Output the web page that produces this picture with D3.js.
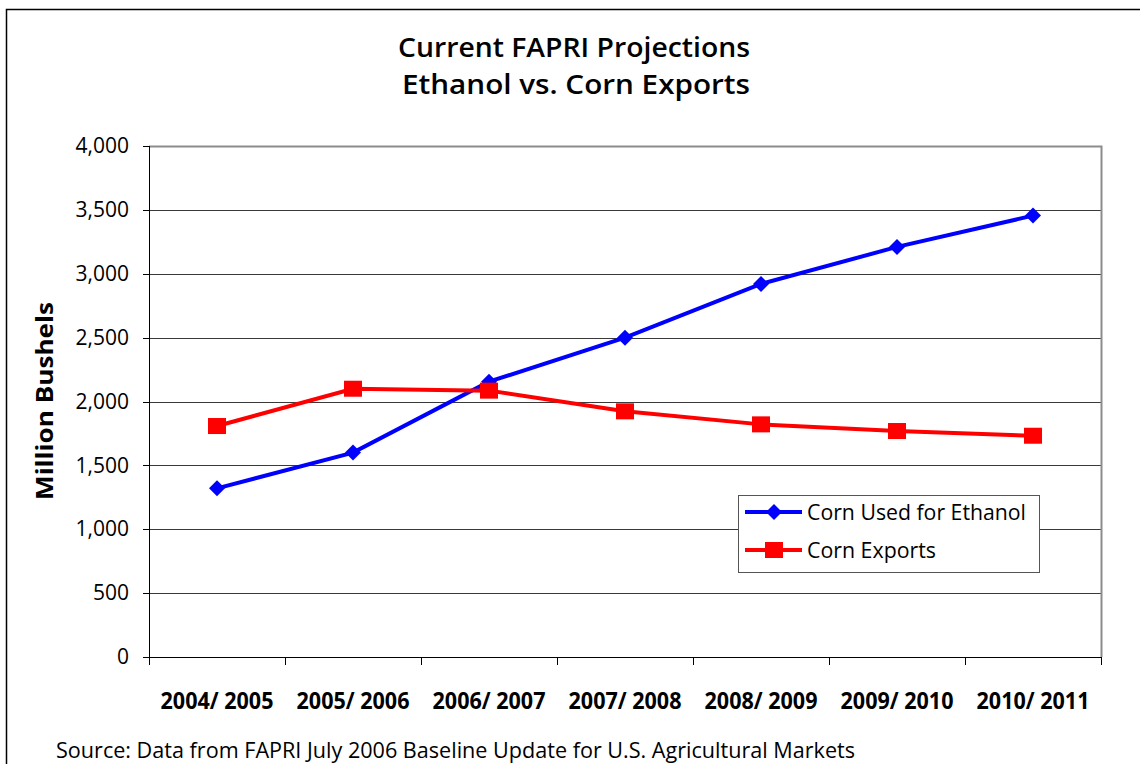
<!DOCTYPE html>
<meta charset="utf-8">
<style>
body { margin: 0; background: #fff; }
svg { display: block; background: #fff; }
text { font-family: "Open Sans", "Noto Sans", sans-serif; fill: #000; }
.grid line { stroke: #3a3a3a; stroke-width: 1px; }
.axis path, .axis line { stroke: #000; stroke-width: 1px; shape-rendering: crispEdges; }
.axis text { font-size: 21px; }
.xaxis text { font-size: 23px; font-weight: 700; }
.legend-name { font-size: 21px; }
</style>
<body>
<script src="https://d3js.org/d3.v7.min.js"></script>
<script>
// categories and series (million bushels)
var years = ["2004/ 2005", "2005/ 2006", "2006/ 2007", "2007/ 2008", "2008/ 2009", "2009/ 2010", "2010/ 2011"];
var ethanol = [1320, 1600, 2155, 2500, 2920, 3210, 3455];
var exports = [1808, 2100, 2085, 1923, 1821, 1769, 1732];
var yTicks = [0, 500, 1000, 1500, 2000, 2500, 3000, 3500, 4000];
var seriesNames = ["Corn Used for Ethanol", "Corn Exports"];

var W = 1140, H = 764;
var margin = {top: 146, right: 39, bottom: 107, left: 149};
var width = W - margin.left - margin.right,
    height = H - margin.top - margin.bottom;

var svg = d3.select("body").append("svg")
    .attr("width", W)
    .attr("height", H);

// outer chart border
svg.append("rect")
    .attr("x", 6.5).attr("y", 9.5)
    .attr("width", 1200).attr("height", 1000)
    .attr("fill", "none").attr("stroke", "#000").attr("stroke-width", 1.5);

// titles
svg.append("text").attr("x", 574).attr("y", 57)
    .attr("text-anchor", "middle").style("font-size", "27px").style("font-weight", 600)
    .attr("textLength", 352).attr("lengthAdjust", "spacingAndGlyphs")
    .text("Current FAPRI Projections");
svg.append("text").attr("x", 576).attr("y", 94)
    .attr("text-anchor", "middle").style("font-size", "27px").style("font-weight", 600)
    .attr("textLength", 348).attr("lengthAdjust", "spacingAndGlyphs")
    .text("Ethanol vs. Corn Exports");

var g = svg.append("g")
    .attr("transform", "translate(" + margin.left + "," + margin.top + ")");

var x = d3.scaleBand().domain(years).range([0, width]);
var y = d3.scaleLinear().domain([0, 4000]).range([height, 0]);

// grid
g.append("g").attr("class", "grid")
  .selectAll("line")
  .data(yTicks.filter(function(d) { return d > 0 && d < 4000; }))
  .enter().append("line")
    .attr("x1", 0).attr("x2", width)
    .attr("y1", function(d) { return Math.round(y(d)) + 0.5; })
    .attr("y2", function(d) { return Math.round(y(d)) + 0.5; });

// plot frame top/right (gray)
g.append("path")
    .attr("d", "M0," + (y(4000) + 0.5) + "H" + (width + 0.5) + "V" + height)
    .attr("fill", "none").attr("stroke", "#8c8c8c").attr("stroke-width", 2);

// y axis
g.append("g").attr("class", "axis")
    .call(d3.axisLeft(y).tickValues(yTicks).tickSize(6).tickPadding(14)
      .tickFormat(d3.format(",")));

// x axis with ticks at category boundaries
var xa = g.append("g").attr("class", "axis xaxis")
    .attr("transform", "translate(0," + height + ")");
xa.append("line").attr("x1", 0).attr("x2", width).attr("y1", 0.5).attr("y2", 0.5);
xa.selectAll(".btick")
  .data(d3.range(years.length + 1))
  .enter().append("line")
    .attr("x1", function(i) { return Math.round(i * x.step()) + 0.5; })
    .attr("x2", function(i) { return Math.round(i * x.step()) + 0.5; })
    .attr("y1", 0).attr("y2", 8);
xa.selectAll(".xlab")
  .data(years)
  .enter().append("text")
    .attr("x", function(d) { return x(d) + x.bandwidth() / 2; })
    .attr("y", 52)
    .attr("text-anchor", "middle")
    .attr("textLength", 113).attr("lengthAdjust", "spacingAndGlyphs")
    .text(function(d) { return d; });

// y axis title
svg.append("text")
    .attr("transform", "translate(53,401) rotate(-90)")
    .attr("text-anchor", "middle")
    .style("font-size", "24px").style("font-weight", 700)
    .attr("textLength", 198).attr("lengthAdjust", "spacingAndGlyphs")
    .text("Million Bushels");

var cx = function(i) { return x(years[i]) + x.bandwidth() / 2; };
var line = d3.line()
    .x(function(d, i) { return cx(i); })
    .y(function(d) { return y(d); });

// ethanol line
g.append("path").datum(ethanol)
    .attr("fill", "none").attr("stroke", "#0000ff").attr("stroke-width", 4)
    .attr("d", line);
// exports line
g.append("path").datum(exports)
    .attr("fill", "none").attr("stroke", "#ff0000").attr("stroke-width", 4)
    .attr("d", line);

var diamond = "M0,-8L8,0L0,8L-8,0Z";

g.selectAll(".dia")
  .data(ethanol)
  .enter().append("path")
    .attr("d", diamond)
    .attr("fill", "#0000ff")
    .attr("transform", function(d, i) { return "translate(" + cx(i) + "," + y(d) + ")"; });

g.selectAll(".sq")
  .data(exports)
  .enter().append("rect")
    .attr("x", function(d, i) { return cx(i) - 9; })
    .attr("y", function(d) { return y(d) - 8; })
    .attr("width", 18).attr("height", 16)
    .attr("fill", "#ff0000");

// legend
var lg = svg.append("g").attr("transform", "translate(738,495)");
lg.append("rect")
    .attr("x", 0.5).attr("y", 0.5).attr("width", 301).attr("height", 77)
    .attr("fill", "#fff").attr("stroke", "#555").attr("stroke-width", 1);
var colors = ["#0000ff", "#ff0000"];
var rows = lg.selectAll(".row")
  .data(seriesNames)
  .enter().append("g")
    .attr("transform", function(d, i) { return "translate(0," + (17 + i * 38) + ")"; });
rows.append("line")
    .attr("x1", 7).attr("x2", 64).attr("y1", 0).attr("y2", 0)
    .attr("stroke", function(d, i) { return colors[i]; }).attr("stroke-width", 4);
rows.filter(function(d, i) { return i === 0; }).append("path")
    .attr("d", diamond).attr("transform", "translate(36,0)").attr("fill", "#0000ff");
rows.filter(function(d, i) { return i === 1; }).append("rect")
    .attr("x", 27).attr("y", -8).attr("width", 18).attr("height", 16).attr("fill", "#ff0000");
rows.append("text")
    .attr("class", "legend-name")
    .attr("x", 69).attr("y", 8)
    .attr("textLength", function(d, i) { return i === 0 ? 219 : 129; })
    .attr("lengthAdjust", "spacingAndGlyphs")
    .text(function(d) { return d; });

// source note
svg.append("text")
    .attr("x", 56).attr("y", 758)
    .style("font-size", "21px")
    .attr("textLength", 799).attr("lengthAdjust", "spacingAndGlyphs")
    .text("Source: Data from FAPRI July 2006 Baseline Update for U.S. Agricultural Markets");
</script>
</body>
